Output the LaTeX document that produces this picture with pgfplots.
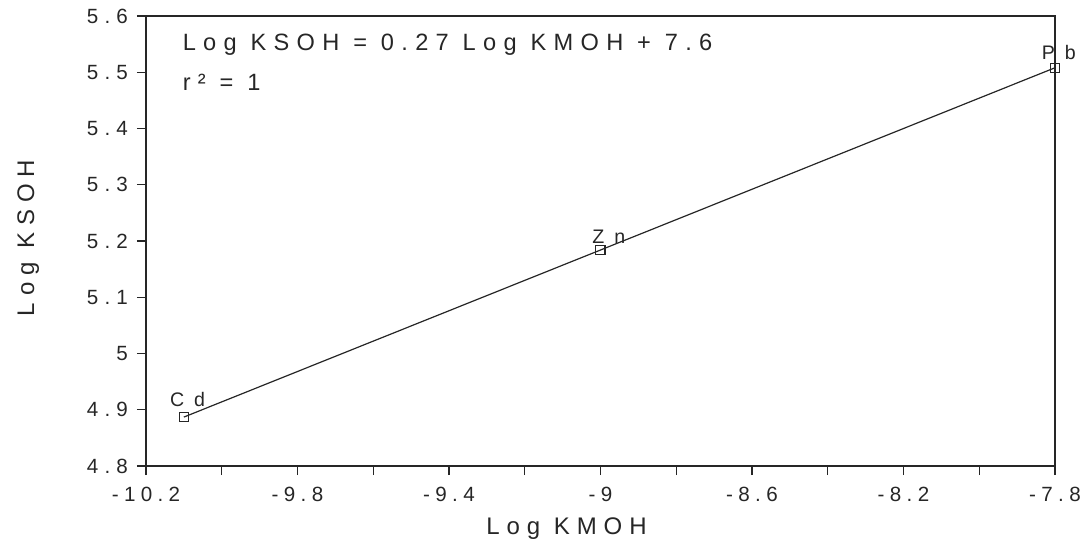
\documentclass[border=0pt]{standalone}
\usepackage{fontspec}
\setmainfont{Liberation Sans}[LetterSpace=25]
\usepackage{pgfplots}
\pgfplotsset{compat=1.18}
\begin{document}
\begin{tikzpicture}
\useasboundingbox (-73pt,-36pt) rectangle (468pt,233pt);
\begin{axis}[
  scale only axis,
  width=454.5pt, height=225pt,
  xmin=-10.2, xmax=-7.8, ymin=4.8, ymax=5.6,
  xtick={-10.2,-9.8,-9.4,-9,-8.6,-8.2,-7.8},
  xticklabels={-10.2,-9.8,-9.4,-9,-8.6,-8.2,-7.8},
  minor xtick={-10,-9.6,-9.2,-8.8,-8.4,-8},
  ytick={4.8,4.9,5,5.1,5.2,5.3,5.4,5.5,5.6},
  yticklabels={4.8,4.9,5,5.1,5.2,5.3,5.4,5.5,5.6},
  tick align=outside,
  xtick pos=bottom, ytick pos=left,
  major tick length=4.5pt, minor tick length=4.5pt,
  tick style={black!85, line width=0.6pt},
  axis line style={black!85, line width=0.75pt},
  tick label style={font=\fontsize{10.3}{12}\selectfont\addfontfeature{LetterSpace=30}, text=black!85},
  xticklabel style={yshift=-2.5pt, font=\fontsize{10.3}{12}\selectfont\addfontfeature{LetterSpace=26}},
  yticklabel style={xshift=-1pt},
  xlabel={Log KMOH}, ylabel={Log KSOH},
  label style={font=\fontsize{12}{14}\selectfont\addfontfeature{LetterSpace=29}, text=black!85},
  xlabel style={yshift=-1pt, xshift=-17pt},
  ylabel style={yshift=17pt, xshift=1.5pt},
  clip=false,
]
\addplot[black!85, line width=0.6pt, mark=square, mark size=2.3pt, mark options={solid, line width=0.6pt, fill=white}]
  coordinates {(-10.1,4.887) (-9.0,5.184) (-7.8,5.508)};
\node[anchor=base, font=\fontsize{9.8}{12}\selectfont\addfontfeature{LetterSpace=50}, inner sep=0pt, text=black!85] at (axis cs:-10.09,4.905) {Cd};
\node[anchor=base, font=\fontsize{9.8}{12}\selectfont\addfontfeature{LetterSpace=50}, inner sep=0pt, text=black!85] at (axis cs:-8.978,5.195) {Zn};
\node[anchor=base, font=\fontsize{9.8}{12}\selectfont\addfontfeature{LetterSpace=50}, inner sep=0pt, text=black!85] at (axis cs:-7.79,5.522) {Pb};
\node[anchor=west, font=\fontsize{11.8}{14}\selectfont\addfontfeature{LetterSpace=31}, inner sep=0pt, text=black!85] at (rel axis cs:0.04,0.936) {Log KSOH = 0.27 Log KMOH + 7.6};
\node[anchor=west, font=\fontsize{11.8}{14}\selectfont\addfontfeature{LetterSpace=31}, inner sep=0pt, text=black!85] at (rel axis cs:0.04,0.853) {r² = 1};
\end{axis}
\end{tikzpicture}
\end{document}
